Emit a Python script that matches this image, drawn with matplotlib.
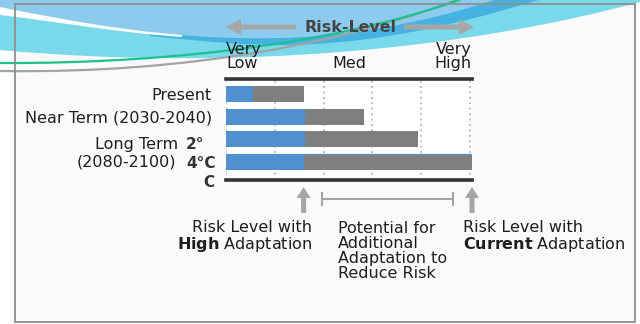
import matplotlib
matplotlib.use("Agg")
import matplotlib.pyplot as plt
import matplotlib.transforms as mtransforms
from matplotlib.path import Path
from matplotlib.patches import PathPatch, Rectangle, FancyArrow

# risk scale runs 0 (very low) .. 5 (very high)
row_labels = ["Present", "Near Term (2030-2040)"]
high_adapt = [0.55, 1.61, 1.61, 1.59]      # risk with high adaptation
current_adapt = [1.59, 2.82, 3.94, 5.04]   # risk with current adaptation
risk_labels = ["Very\nLow", "Med", "Very\nHigh"]
risk_pos = [0, 2.52, 5.04]

blue = "#5090cf"
grey = "#7f7f7f"
txt = "#1e1e1e"
fs = 11.5

fig = plt.figure(figsize=(6.4, 3.24), dpi=100)
fig.patch.set_facecolor("white")

# background layer in pixel units
bg = fig.add_axes([0, 0, 1, 1], zorder=0)
bg.set_xlim(0, 640)
bg.set_ylim(324, 0)
bg.axis("off")

bg.add_patch(Rectangle((15, 4), 620, 318, facecolor="#fafafa", edgecolor="none", zorder=0))

M, L, C, Z = Path.MOVETO, Path.LINETO, Path.CURVE4, Path.CLOSEPOLY

def shape(verts, codes, fc, z):
    bg.add_patch(PathPatch(Path(verts, codes), facecolor=fc, edgecolor="none", zorder=z))

# cyan swoosh
shape([(0, -2), (0, 50), (240, 72), (470, 48), (640, 2), (640, -2), (0, -2)],
      [M, L, C, C, C, L, Z], "#79d9ea", 1)
# darker blue band
shape([(150, 36), (200, 41), (250, 46), (290, 45), (390, 43), (480, 18), (545, -2), (150, -2), (150, 36)],
      [M, C, C, C, C, C, C, L, Z], "#45b2e2", 2)
# white wedge on the left
shape([(0, -2), (0, 15), (60, 22), (120, 33), (182, 37), (182, -2), (0, -2)],
      [M, L, C, C, C, L, Z], "white", 3)
# light blue top
shape([(0, -2), (0, 7), (70, 21), (170, 41), (280, 38), (370, 36), (450, 15), (500, -2), (0, -2)],
      [M, L, C, C, C, C, C, C, Z], "#8ccbed", 4)

bg.add_patch(PathPatch(Path([(0, 71), (190, 74), (350, 42), (470, -5)], [M, C, C, C]),
                       facecolor="none", edgecolor="#a3a3a3", lw=1.6, zorder=5))
bg.add_patch(PathPatch(Path([(0, 63), (180, 64), (360, 40), (480, -8)], [M, C, C, C]),
                       facecolor="none", edgecolor="#1dc08f", lw=1.6, zorder=6))

# frame
bg.add_patch(Rectangle((15, 4), 620, 318, facecolor="none", edgecolor="#8e8e8e", lw=1.3, zorder=7))

# Risk-Level header with arrows
bg.text(350, 27, "Risk-Level", ha="center", va="center", fontsize=11.4,
        fontweight="bold", color="#444444", zorder=8)
arrow_kw = dict(width=5, head_width=16, head_length=15, length_includes_head=True,
                color="#a6a6a6", lw=0, zorder=8)
bg.add_patch(FancyArrow(296, 27, -70, 0, **arrow_kw))
bg.add_patch(FancyArrow(404, 27, 70, 0, **arrow_kw))

# bars
ax = fig.add_axes([226 / 640, 1 - 180 / 324, (472 - 226) / 640, (180 - 79) / 324], zorder=2)
ax.set_facecolor("white")
ypos = list(range(len(high_adapt)))
gap = [c - h for c, h in zip(current_adapt, high_adapt)]
ax.barh(ypos, high_adapt, height=0.7, color=blue, zorder=3)
ax.barh(ypos, gap, left=high_adapt, height=0.7, color=grey, zorder=3)
ax.hlines(ypos[-1] - 0.35, high_adapt[-1], current_adapt[-1], color=blue, lw=0.9, zorder=4)

ax.set_xlim(0, 5.04)
ax.set_ylim(3.79, -0.66)
ax.set_xticks(range(6))
ax.grid(axis="x", color="#b4b4b4", linestyle=(0, (1, 2)), lw=1.3)
ax.set_axisbelow(True)
ax.set_yticks(ypos[:len(row_labels)])
ax.set_yticklabels(row_labels, fontsize=fs, color=txt)
ax.tick_params(length=0, labelbottom=False, pad=10)
for s in ["left", "right"]:
    ax.spines[s].set_visible(False)
for s in ["top", "bottom"]:
    ax.spines[s].set_color("#333333")
    ax.spines[s].set_linewidth(2.6)

# risk scale labels: x in risk units, y in pixels
tr = mtransforms.blended_transform_factory(ax.transData, bg.transData)
for lab, xp, ha in zip(risk_labels, risk_pos, ["left", "center", "right"]):
    bg.text(xp, 68, lab, transform=tr, ha=ha, va="baseline", fontsize=fs,
            color=txt, linespacing=0.95, zorder=8)

# long-term row labels
bg.text(178, 145, "Long Term", ha="right", va="center", fontsize=fs, color=txt, zorder=8)
bg.text(176, 162, "(2080-2100)", ha="right", va="center", fontsize=fs, color=txt, zorder=8)
deg_kw = dict(fontsize=11, fontweight="bold", color="#333333", zorder=8)
bg.text(186, 149, "2°", ha="left", va="baseline", **deg_kw)
bg.text(186, 168, "4°C", ha="left", va="baseline", **deg_kw)
bg.text(203, 187, "C", ha="left", va="baseline", **deg_kw)

# adaptation markers below the bars
up_kw = dict(width=5, head_width=14, head_length=11, length_includes_head=True,
             color="#a6a6a6", lw=0, zorder=8)
for xp in [high_adapt[-1], current_adapt[-1]]:
    xpix = bg.transData.inverted().transform(ax.transData.transform((xp, 0)))[0]
    bg.add_patch(FancyArrow(xpix, 213, 0, -26, **up_kw))
bg.plot([322, 453], [199, 199], color="#a3a3a3", lw=1.5, zorder=8)
bg.plot([322, 322], [193, 205], color="#a3a3a3", lw=1.5, zorder=8)
bg.plot([453, 453], [193, 205], color="#a3a3a3", lw=1.5, zorder=8)

bg.text(312, 249, "Risk Level with\n$\\mathbf{High}$ Adaptation", ha="right", va="baseline",
        fontsize=fs, color=txt, linespacing=1.0, multialignment="right", zorder=8)
bg.text(338, 221, "Potential for\nAdditional\nAdaptation to\nReduce Risk", ha="left", va="top",
        fontsize=fs, color=txt, linespacing=1.0, zorder=8)
bg.text(463, 249, "Risk Level with\n$\\mathbf{Current}$ Adaptation", ha="left", va="baseline",
        fontsize=fs, color=txt, linespacing=1.0, zorder=8)

fig.savefig("out.png", dpi=100)
